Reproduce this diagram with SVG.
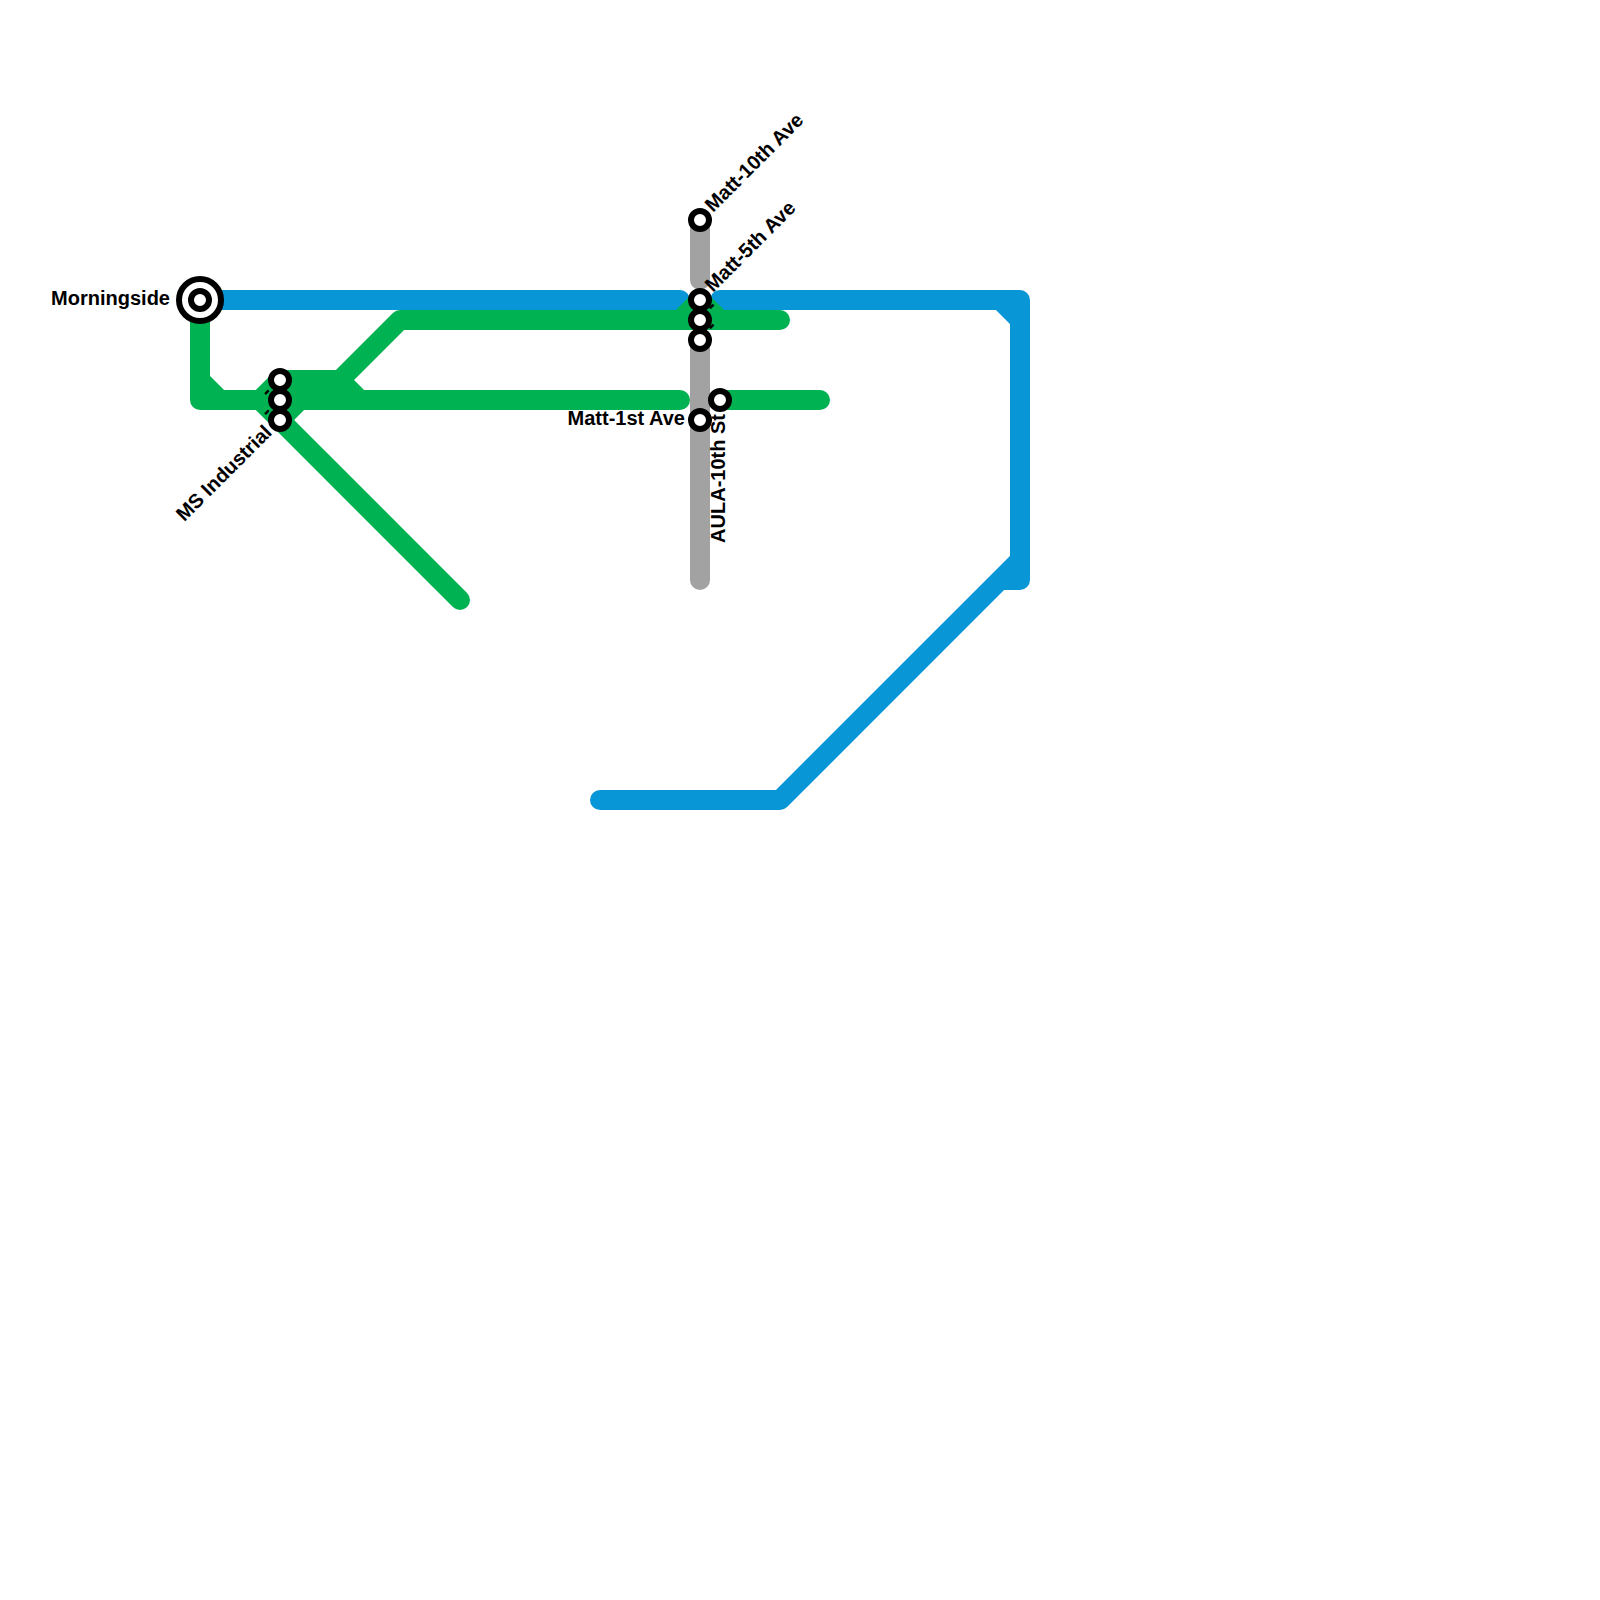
<svg xmlns="http://www.w3.org/2000/svg" width="1600" height="1600" viewBox="0 0 1600 1600">
<style>
.l{fill:none;stroke-width:20;stroke-linecap:round;stroke-linejoin:round}
.b{stroke:#0896d7}.g{stroke:#00b251}.y{stroke:#a2a2a2}
.s{fill:#fff;stroke:#000;stroke-width:6}
.t{font-family:"Liberation Sans",Arial,sans-serif;font-weight:700;font-size:20px;fill:#000}
</style>
<rect width="1600" height="1600" fill="#fff"/>
<g id="connectors">
<path class="l y" d="M700 220V280M700 340V580"/>
<path class="l b" d="M200 300H680M720 300H1020V580H1000L780 800H600M1000 300L1020 320M1020 560L1000 580"/>
<path class="l g" d="M200 310V400H680M200 380L220 400M280 380H340L360 400M340 380L400 320H780M280 380V420M260 400L280 380M260 400L280 420L460 600M280 420L300 400M300 380V400M320 380V400M680 320L700 300L720 320M720 400H820"/>
</g>
<g id="morningside"><circle class="s" cx="200" cy="300" r="21"/><circle class="s" cx="200" cy="300" r="9"/><text class="t" x="170" y="305" text-anchor="end">Morningside</text></g>
<g id="s280-380"><text class="t" x="273" y="393.5" text-anchor="end" transform="rotate(-45 273 393.5)">-</text><circle class="s" cx="280" cy="380" r="9"/></g>
<g id="s280-400"><text class="t" x="273" y="413.5" text-anchor="end" transform="rotate(-45 273 413.5)">-</text><circle class="s" cx="280" cy="400" r="9"/></g>
<g id="ms-industrial"><circle class="s" cx="280" cy="420" r="9"/><text class="t" x="273" y="433.5" text-anchor="end" transform="rotate(-45 273 433.5)">MS Industrial</text></g>
<g id="matt-10th"><circle class="s" cx="700" cy="220" r="9"/><text class="t" x="713" y="213" transform="rotate(-45 713 213)">Matt-10th Ave</text></g>
<g id="matt-5th"><circle class="s" cx="700" cy="300" r="9"/><text class="t" x="713" y="293" transform="rotate(-45 713 293)">Matt-5th Ave</text></g>
<g id="s700-320"><text class="t" x="713" y="312.5" transform="rotate(-45 713 312.5)">-</text><circle class="s" cx="700" cy="320" r="9"/></g>
<g id="s700-340"><text class="t" x="713" y="332.5" transform="rotate(-45 713 332.5)">-</text><circle class="s" cx="700" cy="340" r="9"/></g>
<g id="matt-1st"><circle class="s" cx="700" cy="420" r="9"/><text class="t" x="685" y="425" text-anchor="end">Matt-1st Ave</text></g>
<g id="aula-10th"><circle class="s" cx="720" cy="400" r="9"/><text class="t" x="725" y="414" text-anchor="end" transform="rotate(-90 725 414)">AULA-10th St</text></g>
</svg>
